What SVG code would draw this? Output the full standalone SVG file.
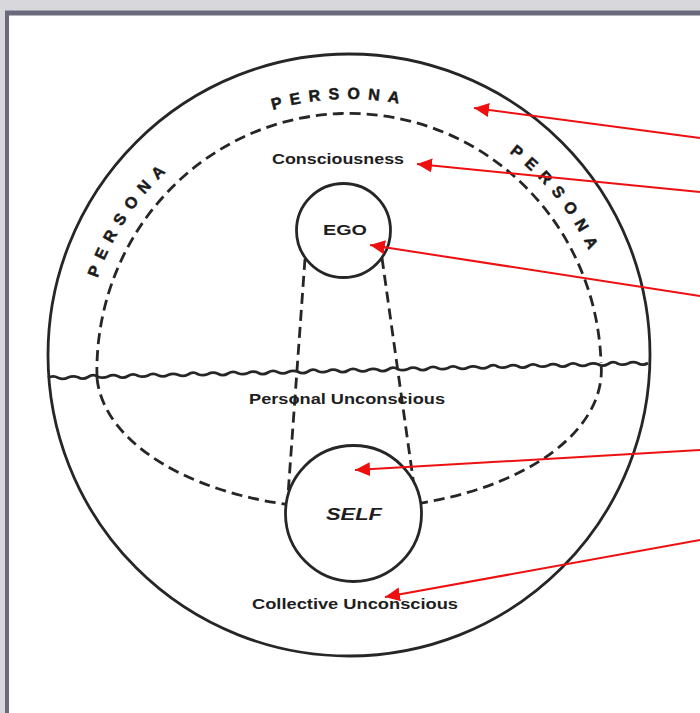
<svg xmlns="http://www.w3.org/2000/svg" width="700" height="713" viewBox="0 0 700 713">
  <defs>
    <style>
      .ink { fill: none; stroke: #262626; stroke-width: 2.8; }
      .dash { fill: none; stroke: #262626; stroke-width: 2.8; stroke-dasharray: 11 6; }
      .lbl { font-family: "Liberation Sans", Arial, sans-serif; font-weight: bold; fill: #1e1e1e; }
      .per { font-family: "Liberation Sans", Arial, sans-serif; font-weight: bold; fill: #1a1a1a; font-size: 16px; letter-spacing: 8px; stroke: #1a1a1a; stroke-width: 0.5; }
      .red { stroke: #ee1010; stroke-width: 2; fill: none; }
    </style>
    <marker id="ah" markerUnits="userSpaceOnUse" markerWidth="16" markerHeight="14" refX="15" refY="7" orient="auto">
      <path d="M0 0 L15 7 L0 14 Z" fill="#ee1010"/>
    </marker>
    <path id="ring" d="M83 365 A266 266 0 1 1 615 365 A266 266 0 1 1 83 365"/>
  </defs>

  <!-- frame -->
  <rect x="0" y="0" width="700" height="713" fill="#d8d8dc"/>
  <rect x="8" y="15" width="692" height="698" fill="#ffffff"/>
  <line x1="5" y1="13" x2="700" y2="13" stroke="#6a6a7c" stroke-width="5"/>
  <line x1="7" y1="11" x2="7" y2="713" stroke="#6a6a7c" stroke-width="4"/>

  <g id="psyche">
    <circle class="ink" cx="349" cy="355" r="301"/>
  </g>

  <g id="persona">
    <text class="per"><textPath href="#ring" startOffset="156" text-anchor="middle">PERSONA</textPath></text>
    <text class="per"><textPath href="#ring" startOffset="408" text-anchor="middle">PERSONA</textPath></text>
    <text class="per"><textPath href="#ring" startOffset="657" text-anchor="middle">PERSONA</textPath></text>
  </g>

  <g id="consciousness">
    <path class="dash" d="M97 378 A252 257 0 0 1 601 363"/>
    <text class="lbl" x="338" y="164" font-size="15" text-anchor="middle" textLength="132" lengthAdjust="spacingAndGlyphs">Consciousness</text>
  </g>

  <g id="threshold">
    <path class="ink" d="M48 378 q5 -3 10 -0.25 q5 2.5 10 -0.25 q5 -2 10 -0.25 q5 3 10 -0.25 q5 -3.5 10 -0.25 q5 2 10 -0.25 q5 -2.5 10 -0.25 q5 3 10 -0.25 q5 -3 10 -0.25 q5 2 10 -0.25 q5 -3 10 -0.25 q5 2.5 10 -0.25 q5 -2 10 -0.25 q5 2.5 10 -0.25 q5 -3.5 10 -0.25 q5 2 10 -0.25 q5 -2.5 10 -0.25 q5 3 10 -0.25 q5 -3 10 -0.25 q5 2 10 -0.25 q5 -2.5 10 -0.25 q5 3 10 -0.25 q5 -3 10 -0.25 q5 2.5 10 -0.25 q5 -2 10 -0.25 q5 3 10 -0.25 q5 -3.5 10 -0.25 q5 2 10 -0.25 q5 -2.5 10 -0.25 q5 3 10 -0.25 q5 -3 10 -0.25 q5 2.5 10 -0.25 q5 -2 10 -0.25 q5 3 10 -0.25 q5 -3.5 10 -0.25 q5 2 10 -0.25 q5 -2.5 10 -0.25 q5 3 10 -0.25 q5 -3 10 -0.25 q5 2 10 -0.25 q5 -3 10 -0.25 q5 2.5 10 -0.25 q5 -2 10 -0.25 q5 2.5 10 -0.25 q5 -3.5 10 -0.25 q5 2 10 -0.25 q5 -2.5 10 -0.25 q5 3 10 -0.25 q5 -3 10 -0.25 q5 2 10 -0.25 q5 -2.5 10 -0.25 q5 3 10 -0.25 q5 -3 10 -0.25 q5 2.5 10 -0.25 q5 -2 10 -0.25 q5 3 10 -0.25 q5 -3.5 10 -0.25 q5 2 10 -0.25 q5 -2.5 10 -0.25 q5 3 10 -0.25"/>
  </g>

  <g id="personal-unconscious">
    <path class="dash" d="M97 378 A252 138 0 0 0 601 363"/>
    <path class="dash" d="M305 259 L288 495"/>
    <path class="dash" d="M382 258 L416 500"/>
    <text class="lbl" x="347" y="404" font-size="15" text-anchor="middle" textLength="196" lengthAdjust="spacingAndGlyphs">Personal Unconscious</text>
  </g>

  <g id="ego">
    <circle cx="343.5" cy="230.5" r="47" fill="#ffffff" stroke="#262626" stroke-width="2.8"/>
    <text class="lbl" x="345" y="235" font-size="14" text-anchor="middle" textLength="44" lengthAdjust="spacingAndGlyphs">EGO</text>
  </g>

  <g id="self">
    <circle cx="353.5" cy="513.5" r="68" fill="#ffffff" stroke="#262626" stroke-width="2.8"/>
    <text class="lbl" x="354" y="520" font-size="16" font-style="italic" text-anchor="middle" textLength="56" lengthAdjust="spacingAndGlyphs">SELF</text>
  </g>

  <g id="collective-unconscious">
    <text class="lbl" x="355" y="609" font-size="15" text-anchor="middle" textLength="206" lengthAdjust="spacingAndGlyphs">Collective Unconscious</text>
  </g>

  <g id="connectors">
    <line class="red" x1="700" y1="138" x2="474" y2="108" marker-end="url(#ah)"/>
    <line class="red" x1="700" y1="192" x2="417" y2="164" marker-end="url(#ah)"/>
    <line class="red" x1="700" y1="296" x2="370" y2="245" marker-end="url(#ah)"/>
    <line class="red" x1="700" y1="450" x2="355" y2="470" marker-end="url(#ah)"/>
    <line class="red" x1="700" y1="540" x2="385" y2="597" marker-end="url(#ah)"/>
  </g>
</svg>
